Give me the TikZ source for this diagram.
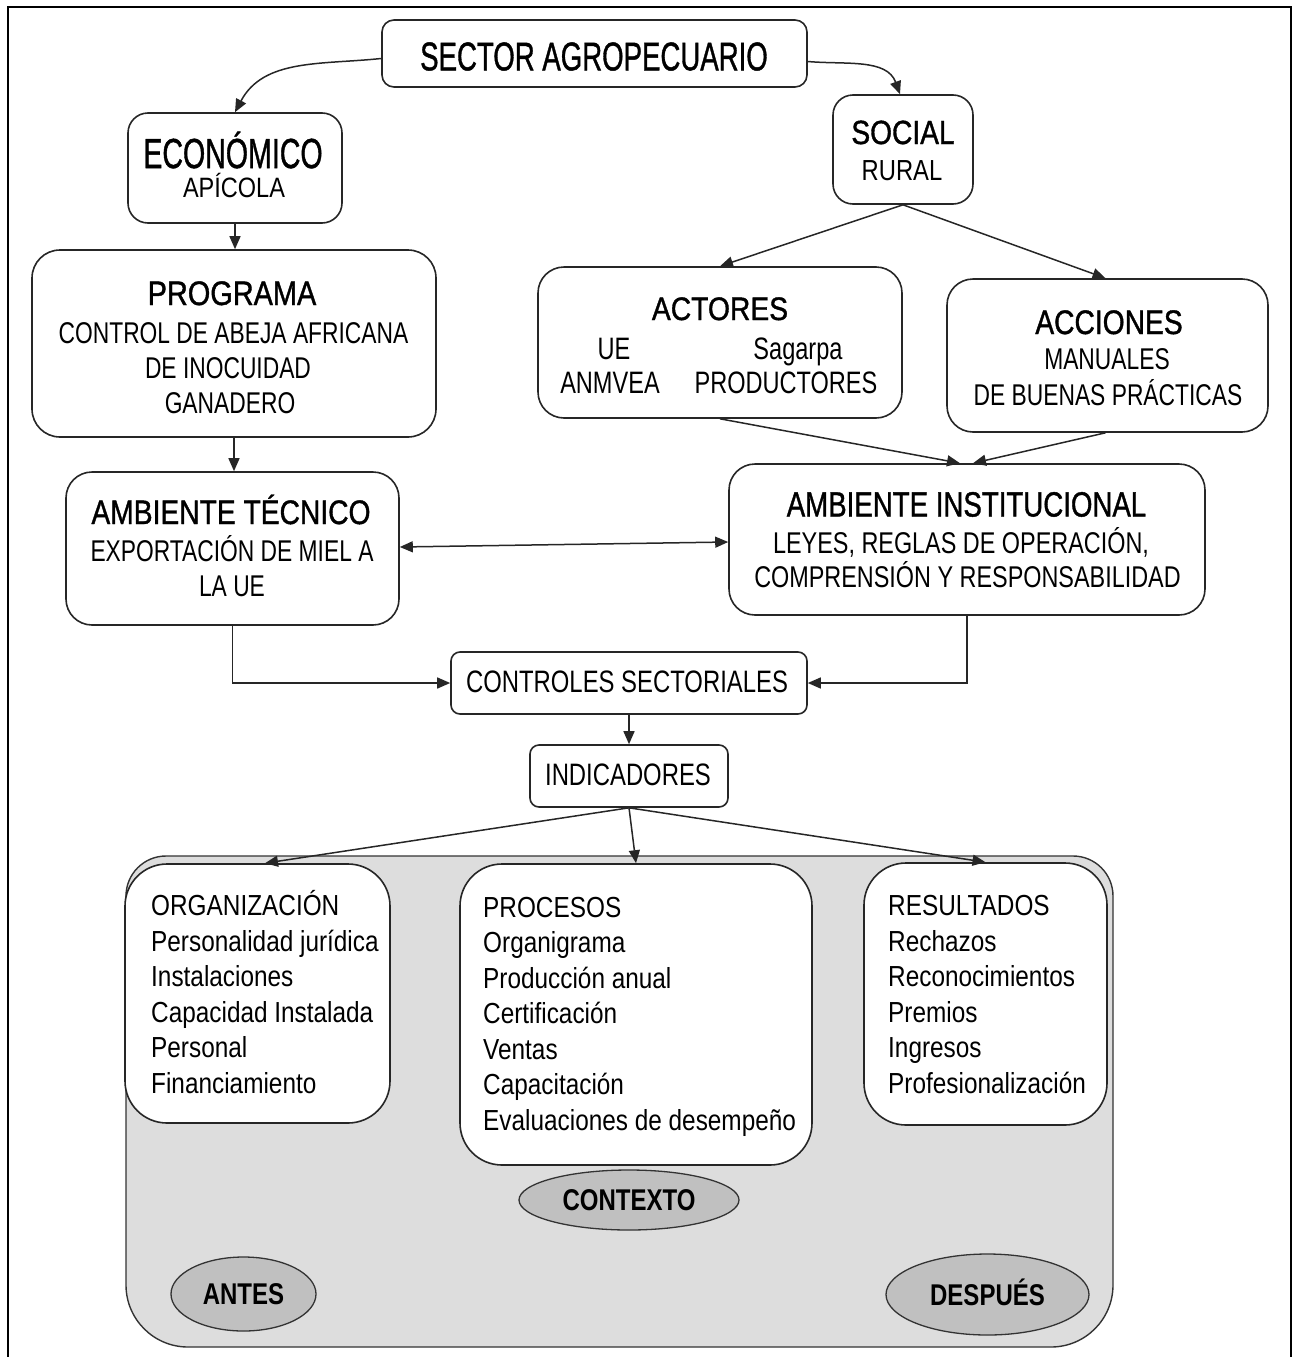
\documentclass[tikz,border=0pt]{standalone}
\usepackage{fontspec}
\setmainfont{Liberation Sans}
\newfontfamily\titlefont[FakeBold=1.2]{Liberation Sans}
\usepackage{graphicx}
\usetikzlibrary{arrows.meta,shapes.geometric}
\newcommand\tx[3]{{\fontsize{#2pt}{#2pt}\selectfont\scalebox{#1}[1]{#3}}}
\newcommand\ttl[3]{{\titlefont\fontsize{#2pt}{#2pt}\selectfont\scalebox{#1}[1]{#3}}}
\definecolor{panel}{HTML}{DDDDDD}
\definecolor{ovalfill}{HTML}{C0C0C0}
\begin{document}
\begin{tikzpicture}[x=1pt,y=-1pt,
  box/.style={draw=black!85, line width=1.6pt, rounded corners=#1, fill=white, inner sep=0pt},
  box/.default=15pt,
  txt/.style={anchor=base, inner sep=0pt},
  lst/.style={anchor=base west, inner sep=0pt},
  tip/.style={-{Triangle[length=13pt,width=11pt]}},
  arr/.style={line width=1.5pt, draw=black!85, tip},
  oval/.style={ellipse, draw=black!80, line width=1.3pt, fill=ovalfill, inner sep=0pt,
    text height=21.5pt, text depth=0pt}]
\useasboundingbox (0,0) rectangle (1293,1357);
% outer frame
\draw[line width=2.2pt] (8,1357) -- (8,7) -- (1291,7) -- (1291,1357);
% grey panel
\path[draw=black!80, line width=1.4pt, fill=panel]
  (126,1000) [rounded corners=40pt] -- (126,856) -- (1113,856) -- (1113,1000)
  [rounded corners=62pt] -- (1113,1347) -- (126,1347) -- cycle;

% boxes
\node[box=12pt, minimum width=425pt, minimum height=67pt] (sector) at (594.5,53.5) {};
\node[box=20pt, minimum width=214pt, minimum height=110pt] (econ) at (235,168) {};
\node[box=20pt, minimum width=140pt, minimum height=109pt] (social) at (903,149.5) {};
\node[box=28pt, minimum width=404pt, minimum height=187pt] (programa) at (234,343.5) {};
\node[box=26pt, minimum width=364pt, minimum height=151pt] (actores) at (720,342.5) {};
\node[box=26pt, minimum width=321pt, minimum height=153pt] (acciones) at (1107.5,355.5) {};
\node[box=26pt, minimum width=333pt, minimum height=153pt] (tecnico) at (232.5,548.5) {};
\node[box=26pt, minimum width=476pt, minimum height=151pt] (inst) at (967,539.5) {};
\node[box=9pt, minimum width=356pt, minimum height=62pt] (controles) at (629,683) {};
\node[box=9pt, minimum width=198pt, minimum height=62pt] (indicadores) at (629,776) {};
\node[box=42pt, minimum width=265pt, minimum height=259pt] (org) at (257.5,993.5) {};
\node[box=42pt, minimum width=352pt, minimum height=301pt] (proc) at (636,1014.5) {};
\node[box=42pt, minimum width=243pt, minimum height=262pt] (res) at (985.5,994) {};

% ovals
\node[oval, minimum width=220pt, minimum height=60pt] (contexto) at (629,1200) {\tx{0.8}{30}{\bfseries CONTEXTO}};
\node[oval, minimum width=145pt, minimum height=74pt] (antes) at (243.5,1294) {\tx{0.8}{30}{\bfseries ANTES}};
\node[oval, minimum width=203pt, minimum height=81pt] (despues) at (987.5,1294.5) {\tx{0.8}{30}{\bfseries DESPUÉS}};

% connectors
\draw[arr] ([yshift=-5pt]sector.west) to[out=186,in=62] (econ.north);
\draw[arr] ([yshift=-8pt]sector.east) to[out=-5,in=110] ([xshift=-3pt]social.north);
\draw[arr] (econ.south) -- (econ.south |- programa.north);
\draw[arr] (social.south) -- (actores.north);
\draw[arr] (social.south) -- ([xshift=-2pt]acciones.north);
\draw[arr] (programa.south) -- (programa.south |- tecnico.north);
\draw[arr] (actores.south) -- ([xshift=-7pt]inst.north);
\draw[arr] ([xshift=-2pt]acciones.south) -- ([xshift=6pt]inst.north);
\draw[line width=1.5pt, draw=black!85, {Triangle[length=13pt,width=11pt]}-{Triangle[length=13pt,width=11pt]}]
  ([yshift=1.5pt]tecnico.east) -- ([yshift=-2.5pt]inst.west);
\draw[arr] (tecnico.south) |- (controles.west);
\draw[arr] (inst.south) |- (controles.east);
\draw[arr] (controles.south) -- (indicadores.north);
\draw[arr] (indicadores.south) -- ([xshift=7.5pt]org.north);
\draw[arr] (indicadores.south) -- (proc.north);
\draw[arr] (indicadores.south) -- (res.north);

% texts
\node[txt] (tSector) at (594,70.3) {\ttl{0.69}{40}{SECTOR AGROPECUARIO}};
\node[txt] (tEcon) at (233,168) {\ttl{0.68}{42}{ECONÓMICO}};
\node[txt] (tApi) at (234,197) {\tx{0.84}{28}{APÍCOLA}};
\node[txt] (tSocial) at (903,144) {\ttl{0.84}{33.5}{SOCIAL}};
\node[txt] (tRural) at (902,180.4) {\tx{0.82}{29}{RURAL}};
\node[txt] (tProg) at (232,305) {\ttl{0.85}{34}{PROGRAMA}};
\node[txt] (tProg1) at (233.5,343.2) {\tx{0.76}{30}{CONTROL DE ABEJA AFRICANA}};
\node[txt] (tProg2) at (228,378.2) {\tx{0.76}{30}{DE INOCUIDAD}};
\node[txt] (tProg3) at (230,413.2) {\tx{0.76}{30}{GANADERO}};
\node[txt] (tAct) at (720,320) {\ttl{0.87}{32.5}{ACTORES}};
\node[txt] (tUE) at (614,359) {\tx{0.76}{31}{UE}};
\node[txt] (tSag) at (798,359) {\tx{0.76}{31}{Sagarpa}};
\node[txt] (tANM) at (610,393.5) {\tx{0.76}{31}{ANMVEA}};
\node[txt] (tPRO) at (786,393.5) {\tx{0.76}{31}{PRODUCTORES}};
\node[txt] (tAcc) at (1109,334) {\ttl{0.83}{34}{ACCIONES}};
\node[txt] (tAcc1) at (1107,369) {\tx{0.76}{30}{MANUALES}};
\node[txt] (tAcc2) at (1108,405) {\tx{0.76}{30}{DE BUENAS PRÁCTICAS}};
\node[txt] (tTec) at (231,524) {\ttl{0.83}{34}{AMBIENTE TÉCNICO}};
\node[txt] (tTec1) at (232,561) {\tx{0.76}{30}{EXPORTACIÓN DE MIEL A}};
\node[txt] (tTec2) at (232,596) {\tx{0.76}{30}{LA UE}};
\node[txt] (tInst) at (966.5,516.5) {\ttl{0.79}{35}{AMBIENTE INSTITUCIONAL}};
\node[txt] (tInst1) at (961,553.2) {\tx{0.78}{30}{LEYES, REGLAS DE OPERACIÓN,}};
\node[txt] (tInst2) at (967.5,587.4) {\tx{0.78}{30}{COMPRENSIÓN Y RESPONSABILIDAD}};
\node[txt] (tCtrl) at (627,692.7) {\tx{0.77}{31}{CONTROLES SECTORIALES}};
\node[txt] (tInd) at (628,785.7) {\tx{0.77}{31}{INDICADORES}};

% lists
\foreach \t [count=\i from 0] in {ORGANIZACIÓN,Personalidad jurídica,Instalaciones,Capacidad Instalada,Personal,Financiamiento}
  \node[lst] (org\i) at (151,915.4+35.6*\i) {\tx{0.84}{29}{\t}};
\foreach \t [count=\i from 0] in {PROCESOS,Organigrama,Producción anual,Certificación,Ventas,Capacitación,Evaluaciones de desempeño}
  \node[lst] (proc\i) at (483,917.4+35.5*\i) {\tx{0.84}{29}{\t}};
\foreach \t [count=\i from 0] in {RESULTADOS,Rechazos,Reconocimientos,Premios,Ingresos,Profesionalización}
  \node[lst] (res\i) at (888,915.4+35.6*\i) {\tx{0.84}{29}{\t}};
\end{tikzpicture}
\end{document}
